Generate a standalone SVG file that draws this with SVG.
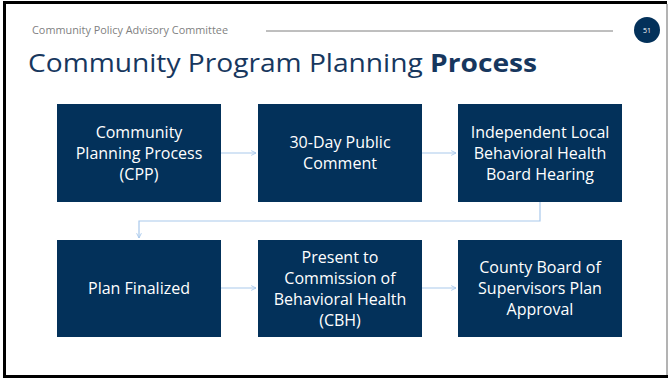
<svg xmlns="http://www.w3.org/2000/svg" width="670" height="382" viewBox="0 0 670 382">
<style>
.box{fill:#03315a}
.bt{font-family:"Open Sans","Liberation Sans",Arial,sans-serif;font-size:16px;fill:#ffffff;text-anchor:middle}
.conn{fill:none;stroke:#a9c9ec;stroke-width:1.2}
</style>
<defs>
<marker id="arr" viewBox="0 0 10 10" refX="9" refY="5" markerWidth="6" markerHeight="6" markerUnits="userSpaceOnUse" orient="auto">
<path d="M1,1 L9,5 L1,9" fill="none" stroke="#a9c9ec" stroke-width="1.5"/>
</marker>
</defs>
<rect x="0" y="0" width="670" height="382" fill="#ffffff"/>
<path d="M4.5,378 L4.5,2.5 L667,2.5" fill="none" stroke="#000" stroke-width="3"/>
<path d="M3,376.5 L668,376.5" fill="none" stroke="#000" stroke-width="3"/>
<line x1="667" y1="4" x2="667" y2="375" stroke="#9a9a9a" stroke-width="1.5"/>
<g id="header">
<text x="32" y="34" font-family="Open Sans,Liberation Sans,Arial,sans-serif" font-size="10" fill="#7f7f7f" textLength="196" lengthAdjust="spacingAndGlyphs">Community Policy Advisory Committee</text>
<line x1="266" y1="31" x2="613" y2="31" stroke="#7f7f7f" stroke-width="1"/>
<circle cx="647" cy="30" r="13" fill="#03315a"/>
<text x="647" y="33" font-family="Open Sans,Liberation Sans,Arial,sans-serif" font-size="7" fill="#ffffff" text-anchor="middle">51</text>
</g>
<text id="title" x="28" y="72" font-family="Open Sans,Liberation Sans,Arial,sans-serif" font-size="25" fill="#17375e" textLength="509" lengthAdjust="spacingAndGlyphs">Community Program Planning <tspan font-weight="bold">Process</tspan></text>
<g id="connectors">
<line class="conn" x1="221" y1="153" x2="256" y2="153" marker-end="url(#arr)"/>
<line class="conn" x1="422" y1="153" x2="456" y2="153" marker-end="url(#arr)"/>
<polyline class="conn" points="540,202 540,221 139,221 139,238" marker-end="url(#arr)"/>
<line class="conn" x1="221" y1="288" x2="256" y2="288" marker-end="url(#arr)"/>
<line class="conn" x1="422" y1="288" x2="456" y2="288" marker-end="url(#arr)"/>
</g>
<g id="n1"><rect class="box" x="57" y="104" width="164" height="98"/>
<text class="bt" x="139" y="138">Community</text><text class="bt" x="139" y="159">Planning Process</text><text class="bt" x="139" y="180">(CPP)</text></g>
<g id="n2"><rect class="box" x="258" y="104" width="164" height="98"/>
<text class="bt" x="340" y="148">30-Day Public</text><text class="bt" x="340" y="169">Comment</text></g>
<g id="n3"><rect class="box" x="458" y="104" width="164" height="98"/>
<text class="bt" x="540" y="138">Independent Local</text><text class="bt" x="540" y="159">Behavioral Health</text><text class="bt" x="540" y="180">Board Hearing</text></g>
<g id="n4"><rect class="box" x="57" y="240" width="164" height="97"/>
<text class="bt" x="139" y="294">Plan Finalized</text></g>
<g id="n5"><rect class="box" x="258" y="240" width="164" height="97"/>
<text class="bt" x="340" y="262.5">Present to</text><text class="bt" x="340" y="283.5">Commission of</text><text class="bt" x="340" y="304.5">Behavioral Health</text><text class="bt" x="340" y="325.5">(CBH)</text></g>
<g id="n6"><rect class="box" x="458" y="240" width="164" height="97"/>
<text class="bt" x="540" y="273">County Board of</text><text class="bt" x="540" y="294">Supervisors Plan</text><text class="bt" x="540" y="315">Approval</text></g>
</svg>
